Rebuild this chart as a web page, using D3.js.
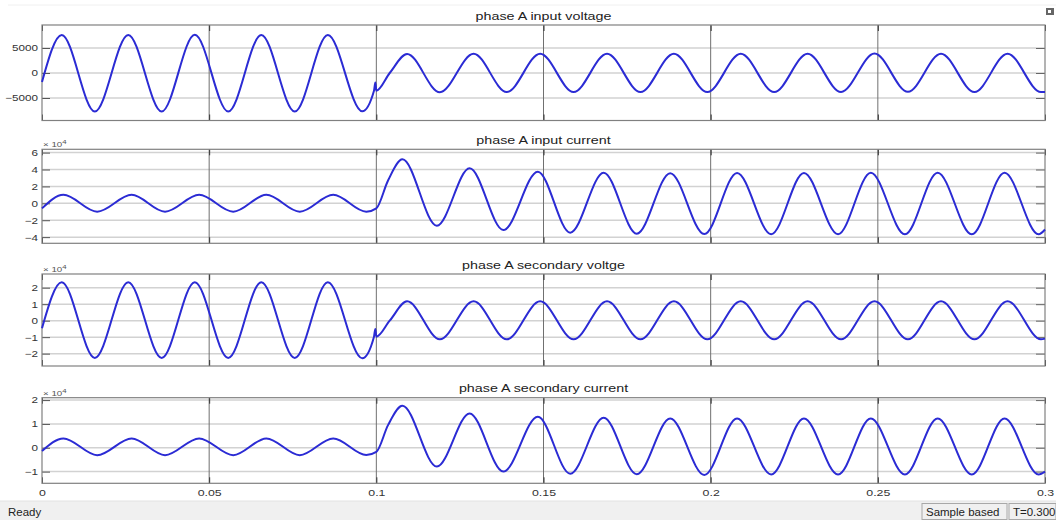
<!DOCTYPE html>
<html>
<head>
<meta charset="utf-8">
<script src="https://cdn.jsdelivr.net/npm/d3@7"></script>
<style>
  body { margin: 0; background: #fff; overflow: hidden; }
  svg { display: block; font-family: "Liberation Sans", Arial, sans-serif; }
</style>
</head>
<body>
<div id="scope"></div>
<script>
// turning points of the voltage traces (s)
const tVolt = [0, 0.0059, 0.0158, 0.0258, 0.0358, 0.0457, 0.0557, 0.0656, 0.0756, 0.0855, 0.0958,
  0.0993, 0.0997, 0.1000, 0.1040,
  0.1092, 0.1190, 0.1291, 0.1390, 0.1490, 0.1590, 0.1690, 0.1790, 0.1890, 0.1990,
  0.2090, 0.2190, 0.2290, 0.2390, 0.2490, 0.2590, 0.2689, 0.2789, 0.2888, 0.2988, 0.3000];

// turning points of the current traces (s)
const tCurr = [0, 0.0064, 0.0165, 0.0268, 0.0368, 0.0470, 0.0572, 0.0671, 0.0771, 0.0871, 0.0970,
  0.1000, 0.1035,
  0.1078, 0.1181, 0.1279, 0.1380, 0.1483, 0.1580, 0.1680, 0.1779, 0.1879, 0.1981,
  0.2079, 0.2181, 0.2279, 0.2381, 0.2479, 0.2581, 0.2679, 0.2781, 0.2879, 0.2981, 0.3000];

const inputVoltage = [-1800, 7600, -7700, 7600, -7700, 7650, -7700, 7600, -7700, 7600, -7650,
  -3540, -1900, -3540, 0,
  3800, -3850, 3850, -3800, 3850, -3800, 3850, -3800, 3850, -3800,
  3850, -3800, 3850, -3800, 3900, -3750, 3850, -3800, 3850, -3800, -3780];

const inputCurrent = [-6000, 10000, -10000, 10000, -10000, 10000, -10000, 10000, -10000, 10000, -10000,
  -6000, 27000,
  52000, -26500, 41400, -31600, 37400, -34700, 36200, -36000, 35700, -36300,
  36000, -36500, 36000, -36600, 36200, -36700, 36200, -36700, 36200, -36700, -31000];

const secondaryVoltage = [-4600, 23300, -22600, 23300, -22600, 23300, -22600, 23300, -22600, 23300, -22800,
  -9700, -5000, -9700, 0,
  11700, -11300, 11700, -11300, 11700, -11300, 11700, -11300, 11700, -11300,
  11700, -11300, 11700, -11300, 11700, -11300, 11700, -11300, 11700, -11300, -10900];

const secondaryCurrent = [-1400, 3900, -3100, 3900, -3100, 3900, -3100, 3900, -3100, 3900, -3000,
  -1700, 9500,
  17600, -7900, 14400, -10000, 13000, -10900, 12600, -11100, 12300, -11400,
  12300, -11200, 12300, -11200, 12300, -11200, 12300, -11200, 12300, -11200, -10000];

const titles = ["phase A input voltage", "phase A input current", "phase A secondary voltge", "phase A secondary current"];
const yDomains = [[-9500, 9600], [-47300, 63900], [-27500, 28300], [-14900, 21000]];
const yTicks = [[-5000, 0, 5000], [-40000, -20000, 0, 20000, 40000, 60000], [-20000, -10000, 0, 10000, 20000], [-10000, 0, 10000, 20000]];
const yExponents = [0, 4, 4, 4];
const xTicks = [0, 0.05, 0.1, 0.15, 0.2, 0.25, 0.3];
const xTickLabels = ["0", "0.05", "0.1", "0.15", "0.2", "0.25", "0.3"];

const series = [
  { t: tVolt, v: inputVoltage },
  { t: tCurr, v: inputCurrent },
  { t: tVolt, v: secondaryVoltage },
  { t: tCurr, v: secondaryCurrent }
];

const width = 1056, height = 520;
const left = 42, right = 1045;
const panels = [
  { top: 25, bottom: 120.5 },
  { top: 149.3, bottom: 243.3 },
  { top: 274, bottom: 366 },
  { top: 397.7, bottom: 483.3 }
];
const stretch = 1.3; // text in the screenshot is wider than tall

const svg = d3.select("#scope")
  .append("svg")
  .attr("width", width)
  .attr("height", height);

// faint separator under the toolbar
svg.append("line")
  .attr("x1", 8).attr("x2", width).attr("y1", 5).attr("y2", 5)
  .attr("stroke", "#f0f0f0");

const x = d3.scaleLinear().domain([0, 0.3]).range([left, right]);

series.forEach((s, i) => {
  const p = panels[i];
  const y = d3.scaleLinear().domain(yDomains[i]).range([p.bottom, p.top]);
  const g = svg.append("g");
  const fmt = d => d3.format("d")(d / Math.pow(10, yExponents[i]));

  // horizontal grid
  g.selectAll(".hgrid")
    .data(yTicks[i])
    .enter()
    .append("line")
    .attr("x1", left).attr("x2", right)
    .attr("y1", d => y(d)).attr("y2", d => y(d))
    .attr("stroke", "#d2d2d2")
    .attr("stroke-width", 1.5);

  // vertical grid
  g.selectAll(".vgrid")
    .data(xTicks.slice(1, -1))
    .enter()
    .append("line")
    .attr("x1", d => x(d)).attr("x2", d => x(d))
    .attr("y1", p.top).attr("y2", p.bottom)
    .attr("stroke", "#707070")
    .attr("stroke-width", 1);

  // left axis with labels
  const yl = g.append("g")
    .attr("transform", `translate(${left},0)`)
    .call(d3.axisLeft(y).tickValues(yTicks[i]).tickSizeInner(-8).tickSizeOuter(0).tickPadding(3).tickFormat(fmt));
  yl.select(".domain").remove();
  yl.selectAll("line").attr("stroke", "#555");
  yl.selectAll("text")
    .attr("transform", `scale(${stretch},1)`)
    .style("font-size", "9px")
    .style("font-family", "'Liberation Sans', Arial, sans-serif")
    .attr("fill", "#333");

  // right axis, ticks only
  const yr = g.append("g")
    .attr("transform", `translate(${right},0)`)
    .call(d3.axisRight(y).tickValues(yTicks[i]).tickSizeInner(-9).tickSizeOuter(0).tickFormat(""));
  yr.select(".domain").remove();
  yr.selectAll("line").attr("stroke", "#666");

  // top and bottom ticks
  const xt = g.append("g")
    .attr("transform", `translate(0,${p.top})`)
    .call(d3.axisTop(x).tickValues(xTicks).tickSizeInner(-6).tickSizeOuter(0).tickFormat(""));
  xt.select(".domain").remove();
  xt.selectAll("line").attr("stroke", "#333");

  const xb = g.append("g")
    .attr("transform", `translate(0,${p.bottom})`)
    .call(d3.axisBottom(x).tickValues(xTicks).tickSizeInner(-6).tickSizeOuter(0).tickPadding(6)
      .tickFormat((d, j) => i === 3 ? xTickLabels[j] : ""));
  xb.select(".domain").remove();
  xb.selectAll("line").attr("stroke", "#333");
  xb.selectAll("text")
    .attr("transform", `scale(${stretch},1)`)
    .style("font-size", "9.5px")
    .style("font-family", "'Liberation Sans', Arial, sans-serif")
    .attr("fill", "#333");

  // frame
  g.append("rect")
    .attr("x", left).attr("y", p.top)
    .attr("width", right - left).attr("height", p.bottom - p.top)
    .attr("fill", "none")
    .attr("stroke", "#808080")
    .attr("stroke-width", 1.2);

  // trace
  g.append("path")
    .datum(s.v)
    .attr("fill", "none")
    .attr("stroke", "#2b2bd4")
    .attr("stroke-width", 2)
    .attr("stroke-linejoin", "round")
    .attr("d", d3.line()
      .x((d, j) => x(s.t[j]))
      .y(d => y(d))
      .curve(d3.curveMonotoneX));

  // title
  g.append("text")
    .attr("transform", `translate(${(left + right) / 2},${p.top - 5.5}) scale(${stretch},1)`)
    .attr("text-anchor", "middle")
    .style("font-size", "11px")
    .attr("fill", "#222")
    .text(titles[i]);

  // exponent label
  if (yExponents[i]) {
    const ex = g.append("text")
      .attr("transform", `translate(${left + 1},${p.top - 2}) scale(${stretch},1)`)
      .style("font-size", "7.5px")
      .attr("fill", "#555");
    ex.append("tspan").text("\u00d7 10");
    ex.append("tspan").attr("dy", -3).style("font-size", "6px").text(yExponents[i]);
  }
});

// status bar
const bar = svg.append("g");
bar.append("rect")
  .attr("x", 0).attr("y", 501).attr("width", width).attr("height", 19)
  .attr("fill", "#f0f0f0");
bar.append("line")
  .attr("x1", 0).attr("x2", width).attr("y1", 501).attr("y2", 501)
  .attr("stroke", "#e2e2e2");
bar.append("text")
  .attr("transform", "translate(8,516) scale(1.15,1)")
  .style("font-size", "10px")
  .attr("fill", "#222")
  .text("Ready");

const boxes = [
  { x: 922, w: 85, label: "Sample based" },
  { x: 1009, w: 47, label: "T=0.300" }
];
boxes.forEach(b => {
  bar.append("rect")
    .attr("x", b.x).attr("y", 503.5).attr("width", b.w).attr("height", 16)
    .attr("fill", "none")
    .attr("stroke", "#a8a8a8");
  bar.append("text")
    .attr("transform", `translate(${b.x + 4},516) scale(1.15,1)`)
    .style("font-size", "10px")
    .attr("fill", "#222")
    .text(b.label);
});

// small toolbar icon, top right
svg.append("rect")
  .attr("x", 1046).attr("y", 8).attr("width", 8).attr("height", 7)
  .attr("fill", "#666");
svg.append("rect")
  .attr("x", 1048).attr("y", 10).attr("width", 3).attr("height", 3)
  .attr("fill", "#fff");
</script>
</body>
</html>
